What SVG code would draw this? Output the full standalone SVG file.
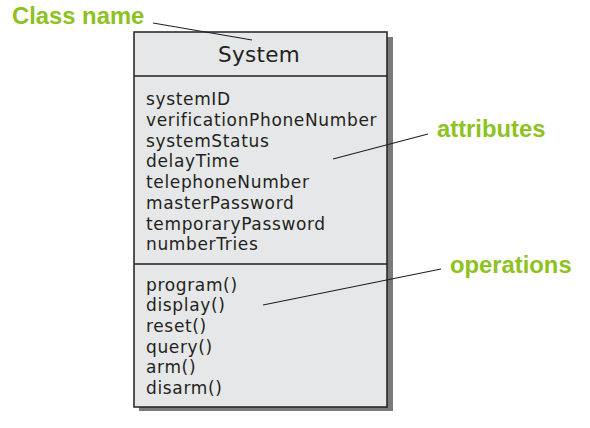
<svg xmlns="http://www.w3.org/2000/svg" width="590" height="428" viewBox="0 0 590 428">
<style>
.lbl{font-family:"Liberation Sans",Arial,sans-serif;font-weight:bold;font-size:23.8px;fill:#8dc21f}
.t{font-family:"DejaVu Sans","Liberation Sans",sans-serif;font-size:17px;letter-spacing:0.65px;fill:#231f20}
.ln{stroke:#231f20;stroke-width:1.2;fill:none}
</style>
<rect width="590" height="428" fill="#fff"/>
<g id="class-system">
<rect x="139" y="37" width="254" height="374" fill="#7a7a7a"/>
<rect x="134" y="32" width="253" height="375" fill="#e6e7e8" stroke="#231f20" stroke-width="1.5"/>
<line x1="134" y1="76" x2="387" y2="76" stroke="#231f20" stroke-width="1.5"/>
<line x1="134" y1="264" x2="387" y2="264" stroke="#231f20" stroke-width="1.5"/>
<text x="259" y="62" text-anchor="middle" class="t" style="font-size:21.5px;letter-spacing:0.3px">System</text>
<text class="t" x="146">
<tspan x="146" y="105">systemID</tspan>
<tspan x="146" y="126">verificationPhoneNumber</tspan>
<tspan x="146" y="147">systemStatus</tspan>
<tspan x="146" y="167">delayTime</tspan>
<tspan x="146" y="188">telephoneNumber</tspan>
<tspan x="146" y="209">masterPassword</tspan>
<tspan x="146" y="230">temporaryPassword</tspan>
<tspan x="146" y="250">numberTries</tspan>
</text>
<text class="t" x="146">
<tspan x="146" y="291">program()</tspan>
<tspan x="146" y="311">display()</tspan>
<tspan x="146" y="332">reset()</tspan>
<tspan x="146" y="353">query()</tspan>
<tspan x="146" y="373">arm()</tspan>
<tspan x="146" y="394">disarm()</tspan>
</text>
</g>
<g id="label-classname"><text class="lbl" x="12" y="24">Class name</text></g>
<g id="label-attributes"><text class="lbl" x="437" y="137">attributes</text></g>
<g id="label-operations"><text class="lbl" x="450" y="273">operations</text></g>
<g id="connectors">
<line class="ln" x1="153" y1="23" x2="252" y2="40"/>
<line class="ln" x1="333" y1="159" x2="428" y2="134"/>
<line class="ln" x1="263" y1="305" x2="441" y2="269"/>
</g>
</svg>
